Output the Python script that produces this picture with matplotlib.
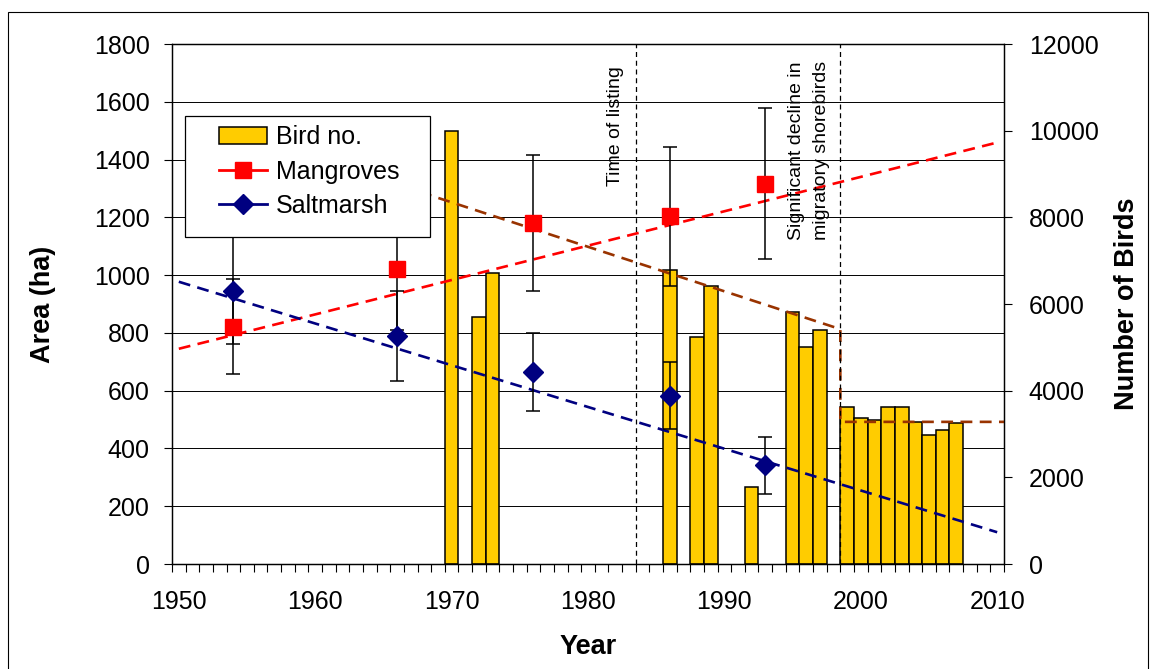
import matplotlib
matplotlib.use("Agg")
import matplotlib.pyplot as plt
import matplotlib.transforms as mtransforms
from matplotlib.lines import Line2D
from matplotlib.patches import Rectangle
from matplotlib.ticker import FixedLocator

plt.rcParams['font.family'] = ['Liberation Sans', 'DejaVu Sans']

# bird counts (right axis)
bird_years = [1970, 1972, 1973, 1986, 1988, 1989, 1992, 1995, 1996, 1997,
              1999, 2000, 2001, 2002, 2003, 2004, 2005, 2006, 2007]
bird_counts = [10000, 5710, 6710, 6790, 5230, 6410, 1780, 5820, 5000, 5410,
               3620, 3360, 3320, 3620, 3620, 3280, 2980, 3090, 3250]

# habitat area (left axis)
area_years = [1954, 1966, 1976, 1986, 1993]
mangroves = [822, 1021, 1181, 1204, 1317]
mangroves_err = [166, 211, 235, 241, 262]
saltmarsh = [946, 789, 666, 583, 341]
saltmarsh_err = [185, 156, 135, 117, 99]

# trend lines
trend_years = [1950, 2010]
mangrove_trend = [745, 1459]
saltmarsh_trend = [977, 110]
bird_trend_years = [1965, 1998.5, 1998.5, 2010.5]
bird_trend = [8860, 5420, 3280, 3280]

event_years = [1983.5, 1998.5]

GOLD = '#FFCC00'
RED = '#FF0000'
NAVY = '#000080'
BROWN = '#993300'
DASH = (0, (4.5, 2.8))

fig = plt.figure(figsize=(11.53, 6.69), dpi=100)
ax = fig.add_axes([172/1153, 1 - 564/669, (1004 - 172)/1153, (564 - 44)/669])
ax2 = ax.twinx()
ax.set_zorder(2)
ax2.set_zorder(1)
ax.patch.set_visible(False)

# outer frame of the chart
fig.patches.append(Rectangle((8/1153, -0.01), (1148 - 8)/1153, 1 - 12/669 + 0.01,
                             transform=fig.transFigure, fill=False,
                             edgecolor='black', linewidth=0.8))

ax.set_xlim(1949.5, 2010.5)
ax.set_ylim(0, 1800)
ax2.set_ylim(0, 12000)

# horizontal gridlines for the area axis, kept below the bars
area_ticks = list(range(0, 1801, 200))
tr = mtransforms.blended_transform_factory(ax2.transAxes, ax.transData)
ax2.hlines(area_ticks[1:-1], 0, 1, transform=tr, colors='black',
           linewidth=0.7, zorder=0.5)

bars = ax2.bar(bird_years, bird_counts, width=1.0, color=GOLD,
               edgecolor='black', linewidth=1.1, zorder=2)
ax2.plot(bird_trend_years, bird_trend, color=BROWN, linestyle=DASH,
         linewidth=1.9, zorder=3)

ax.plot(trend_years, mangrove_trend, color=RED, linestyle=DASH,
        linewidth=1.9, zorder=3)
ax.plot(trend_years, saltmarsh_trend, color=NAVY, linestyle=DASH,
        linewidth=1.9, zorder=3)

for yr in event_years:
    ax.axvline(yr, color='black', linestyle=(0, (4, 3)), linewidth=0.9, zorder=3)

ax.errorbar(area_years, mangroves, yerr=mangroves_err, fmt='none',
            ecolor='black', elinewidth=1.1, capsize=4.7, capthick=1.1, zorder=4)
ax.errorbar(area_years, saltmarsh, yerr=saltmarsh_err, fmt='none',
            ecolor='black', elinewidth=1.1, capsize=4.7, capthick=1.1, zorder=4)
ax.plot(area_years, mangroves, linestyle='none', marker='s',
        markersize=11, color=RED, zorder=5)
ax.plot(area_years, saltmarsh, linestyle='none', marker='D',
        markersize=10, color=NAVY, zorder=5)

ax.text(1982.0, 1725, 'Time of listing', rotation=90, ha='center', va='top',
        fontsize=14)
ax.text(1996.2, 1740, 'Significant decline in\nmigratory shorebirds', rotation=90,
        ha='center', va='top', multialignment='right', fontsize=14,
        linespacing=1.6)

# axes, ticks and labels
ax.set_xticks(range(1950, 2011, 10))
ax.xaxis.set_minor_locator(FixedLocator([y + 0.5 for y in range(1949, 2011)]))
ax.tick_params(axis='x', which='major', length=0, pad=19, labelsize=18)
ax.tick_params(axis='x', which='minor', length=5.5, direction='out', width=0.8)
ax.set_yticks(area_ticks)
ax.tick_params(axis='y', length=5.5, width=0.8, pad=10.6, labelsize=18)
ax2.set_yticks(range(0, 12001, 2000))
ax2.tick_params(axis='y', length=5.5, width=0.8, pad=12.4, labelsize=18)

ax.set_xlabel('Year', fontsize=19.5, fontweight='bold', labelpad=14)
ax.set_ylabel('Area (ha)', fontsize=19.5, fontweight='bold', labelpad=27)
ax2.set_ylabel('Number of Birds', fontsize=19.5, fontweight='bold', labelpad=11)

for sp in list(ax.spines.values()) + list(ax2.spines.values()):
    sp.set_linewidth(0.9)

# legend: white box with frame, entries placed inside it
ax.add_patch(Rectangle(((185 - 172)/832, (564 - 237)/520),
                       (430 - 185)/832, (237 - 116)/520,
                       transform=ax.transAxes, facecolor='white',
                       edgecolor='black', linewidth=0.9, zorder=10))
handles = [bars,
           Line2D([], [], color=RED, marker='s', markersize=11, linewidth=2),
           Line2D([], [], color=NAVY, marker='D', markersize=10, linewidth=2)]
leg = ax.legend(handles, ['Bird no.', 'Mangroves', 'Saltmarsh'],
                loc='upper left', bbox_to_anchor=((219 - 172)/832, (564 - 125)/520),
                fontsize=18, frameon=False, borderpad=0, labelspacing=0.42,
                handlelength=1.9, handletextpad=0.37, borderaxespad=0)
leg.set_zorder(11)

fig.savefig('out.png', dpi=100)
